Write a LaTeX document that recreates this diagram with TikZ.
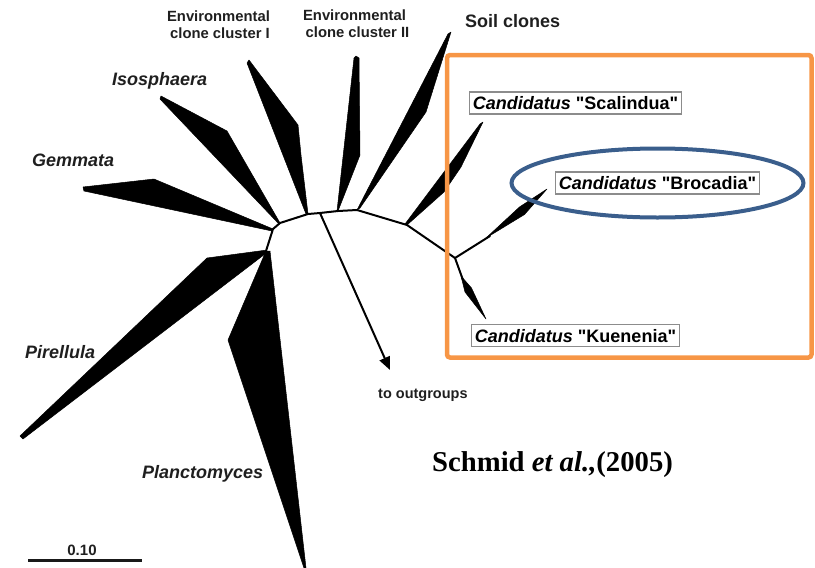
\documentclass[tikz,border=0pt]{standalone}
\usepackage{fontspec}
\setmainfont{Liberation Sans}[Ligatures=TeXOff]
\newfontfamily\citefont{Liberation Serif}
\usetikzlibrary{arrows.meta}
\definecolor{frameorange}{HTML}{F79646}
\definecolor{ringblue}{HTML}{3A5E8C}
\tikzset{
  branch/.style={line width=2pt, line join=round, line cap=round},
  wedge/.style={fill=black, draw=black, line width=0.5pt, line join=round},
  taxon/.style={font=\fontsize{18}{21}\selectfont\bfseries\itshape, text=black!88, inner sep=0pt, anchor=base west},
  group/.style={font=\fontsize{18}{21}\selectfont\bfseries, text=black!88, inner sep=0pt, anchor=base west},
  envlab/.style={font=\fontsize{14.8}{18}\selectfont\bfseries, text=black!88, inner sep=0pt, anchor=base},
  namebox/.style={draw=black!45, line width=1.1pt, font=\fontsize{18}{21}\selectfont\bfseries,
    inner xsep=3.5pt, inner ysep=4.5pt, text height=13pt, text depth=0pt, fill=white},
  frame/.style={draw=frameorange, line width=4.5pt, rounded corners=3pt},
  ring/.style={draw=ringblue, line width=4pt},
}
\begin{document}
\begin{tikzpicture}[x=1pt,y=-1pt]
\useasboundingbox (0,0) rectangle (815,568);

% internal nodes of the tree
\coordinate (j)  at (266,251);
\coordinate (n1) at (273,229);
\coordinate (n2) at (280,223);
\coordinate (n3) at (308,214);
\coordinate (n4) at (320,213);
\coordinate (n5) at (338,211);
\coordinate (n6) at (357,210);
\coordinate (n7) at (407,225);
\coordinate (n8) at (455,258);
\coordinate (out) at (390,370);

% backbone
\draw[branch] (j) -- (n1) -- (n2) -- (n3) -- (n4) -- (n5) -- (n6) -- (n7) -- (n8);

% outgroup arrow
\draw[branch, line cap=butt, -{Triangle[length=13pt,width=11pt]}] (n4) -- (out);

% clade wedges
% Gemmata
\filldraw[wedge] (83,187) -- (154,179) -- (n1) -- (272,231) -- (84,191) -- cycle;
% Isosphaera
\filldraw[wedge] (161,96) -- (227,131) -- (n2) -- (278,223) -- (160,99) -- cycle;
% environmental clone cluster I
\filldraw[wedge] (249,60) -- (298,125) -- (301,155) -- (n3) -- (306,214) -- (247,63) -- cycle;
% environmental clone cluster II
\filldraw[wedge] (356,56) -- (359,58) -- (360,155) -- (n5) -- (337,211) -- (354,58) -- cycle;
% soil clones
\filldraw[wedge] (451,32) -- (426,112) -- (360,208) -- (n6) -- (448,34) -- cycle;
% Scalindua
\filldraw[wedge] (483,122) -- (461,167) -- (444,192) -- (n7) -- (405,224) -- (480,124) -- cycle;
% Brocadia
\draw[branch] (n8) -- (490,236);
\filldraw[wedge] (486,238) -- (524.5,214.5) -- (547,189) -- (519.5,207) -- cycle;
% Kuenenia
\draw[branch] (n8) -- (463,280);
\filldraw[wedge] (461,276) -- (471.5,288) -- (486,319) -- (465,292) -- cycle;
% Pirellula
\filldraw[wedge] (20,436) -- (207,258) -- (267,250) -- (j) -- (265,254) -- (23,439) -- cycle;
% Planctomyces
\filldraw[wedge] (j) -- (270,251) -- (306,568) -- (304,568) -- (228,340) -- cycle;

% clade labels
\node[envlab] (env1a) at (218.5,21) {Environmental};
\node[envlab] (env1b) at (220,38) {clone cluster I};
\node[envlab] (env2a) at (354.5,20.5) {Environmental};
\node[envlab] (env2b) at (357.5,37.5) {clone cluster II};
\node[group] (soil) at (465,27) {Soil clones};
\node[taxon] (iso) at (112,85) {Isosphaera};
\node[taxon] (gem) at (32,166) {Gemmata};
\node[taxon] (pir) at (25,358) {Pirellula};
\node[taxon] (pla) at (142,478) {Planctomyces};
\node[font=\fontsize{14.5}{17}\selectfont\bfseries, text=black!88, inner sep=0pt, anchor=base west] (outlab) at (378,398) {to outgroups};

% scale bar
\coordinate (sb1) at (28,560);
\coordinate (sb2) at (142,560);
\draw[line width=3pt, black!90] (sb1) -- (sb2);
\node[font=\fontsize{15}{18}\selectfont\bfseries, text=black!88, inner sep=0pt, anchor=base] (scale) at (82,555) {0.10};

% anammox genera
\node[namebox] (scal) at (575.5,103) {\textit{Candidatus} "Scalindua"};
\node[namebox] (broc) at (657.5,183) {\textit{Candidatus} "Brocadia"};
\node[namebox] (kuen) at (575.5,335.5) {\textit{Candidatus} "Kuenenia"};

% highlight frame and ring
\draw[frame] (447,55) rectangle (811.5,357.5);
\draw[ring] (broc.center) ellipse [x radius=146, y radius=34.5];

% citation
\node[font=\citefont\fontsize{28.7}{32}\selectfont\bfseries, inner sep=0pt, anchor=base west] (cite) at (432,471) {Schmid \textit{et al.,}(2005)};
\end{tikzpicture}
\end{document}
